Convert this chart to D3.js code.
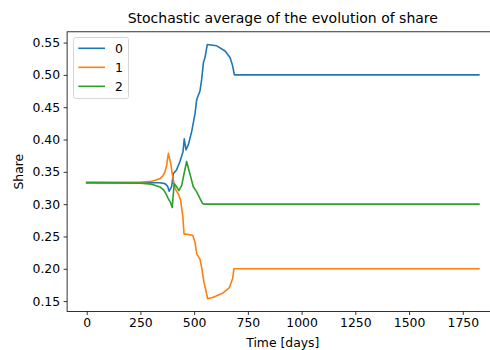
<!DOCTYPE html>
<html>
<head>
<meta charset="utf-8">
<script src="https://cdn.jsdelivr.net/npm/d3@7"></script>
<style>
  html, body { margin: 0; padding: 0; background: #fff; }
  svg { display: block; font-family: "DejaVu Sans", sans-serif; }
</style>
</head>
<body>
<svg id="chart" width="490" height="350"></svg>
<script>
// Series labels and colours
const seriesNames = ["0", "1", "2"];
const seriesColors = ["#1f77b4", "#ff7f0e", "#2ca02c"];

// Share of each group over time (days, share)
const days0  = [0, 250, 340, 364, 376, 384, 395, 403, 418, 434, 448, 454, 462, 473, 489, 504, 512, 527, 535, 543, 550, 561, 605, 644, 667, 679, 687, 1825];
const share0 = [0.3333, 0.3333, 0.3332, 0.3318, 0.328, 0.320, 0.327, 0.347, 0.353, 0.366, 0.381, 0.401, 0.384, 0.392, 0.413, 0.440, 0.462, 0.475, 0.493, 0.519, 0.526, 0.547, 0.545, 0.537, 0.527, 0.514, 0.500, 0.500];

const days1  = [0, 200, 250, 300, 320, 341, 355, 364, 372, 380, 391, 398, 411, 426, 437, 447, 453, 493, 504, 512, 527, 535, 546, 555, 563, 589, 636, 664, 679, 685, 1825];
const share1 = [0.3333, 0.3335, 0.334, 0.3355, 0.337, 0.3396, 0.344, 0.350, 0.360, 0.3786, 0.363, 0.347, 0.324, 0.316, 0.306, 0.282, 0.254, 0.252, 0.241, 0.223, 0.215, 0.202, 0.1786, 0.1656, 0.1536, 0.156, 0.163, 0.171, 0.185, 0.200, 0.200];

const days2  = [0, 250, 300, 320, 341, 355, 364, 372, 380, 388, 398, 407, 418, 429, 442, 453, 465, 484, 496, 512, 524, 538, 545, 1825];
const share2 = [0.3333, 0.3325, 0.331, 0.329, 0.3266, 0.323, 0.319, 0.314, 0.308, 0.304, 0.295, 0.332, 0.327, 0.321, 0.329, 0.347, 0.366, 0.342, 0.327, 0.319, 0.311, 0.3017, 0.300, 0.300];

// Axis ticks
const xTicks = [0, 250, 500, 750, 1000, 1250, 1500, 1750];
const yTicks = [0.15, 0.20, 0.25, 0.30, 0.35, 0.40, 0.45, 0.50, 0.55];

const titleText = "Stochastic average of the evolution of share";
const xLabel = "Time [days]";
const yLabel = "Share";

const series = [
  { name: seriesNames[0], color: seriesColors[0], pts: days0.map((d, i) => [d, share0[i]]) },
  { name: seriesNames[1], color: seriesColors[1], pts: days1.map((d, i) => [d, share1[i]]) },
  { name: seriesNames[2], color: seriesColors[2], pts: days2.map((d, i) => [d, share2[i]]) }
];

const svg = d3.select("#chart");
const plot = { left: 67.1, right: 498.5, top: 31.8, bottom: 311.5 };
const labelSize = "12.4px";

// Matplotlib-style 5% padding on data limits
const allX = [].concat(days0, days1, days2);
const allY = [].concat(share0, share1, share2);
const [xMin, xMax] = d3.extent(allX);
const [yMin, yMax] = d3.extent(allY);
const xPad = (xMax - xMin) * 0.05, yPad = (yMax - yMin) * 0.05;

const x = d3.scaleLinear().domain([xMin - xPad, xMax + xPad]).range([plot.left, plot.right]);
const y = d3.scaleLinear().domain([yMin - yPad, yMax + yPad]).range([plot.bottom, plot.top]);

// Lines
const line = d3.line().x(d => x(d[0])).y(d => y(d[1]));
svg.append("g").selectAll("path").data(series).join("path")
  .attr("d", d => line(d.pts))
  .attr("fill", "none")
  .attr("stroke", d => d.color)
  .attr("stroke-width", 1.6)
  .attr("stroke-linejoin", "round")
  .attr("stroke-linecap", "square");

// Axes
const xAxis = svg.append("g")
  .attr("transform", `translate(0,${plot.bottom})`)
  .call(d3.axisBottom(x).tickValues(xTicks).tickFormat(d3.format("d")).tickSizeOuter(0).tickSize(3.5).tickPadding(3.5));
const yAxis = svg.append("g")
  .attr("transform", `translate(${plot.left},0)`)
  .call(d3.axisLeft(y).tickValues(yTicks).tickFormat(d3.format(".2f")).tickSizeOuter(0).tickSize(3.5).tickPadding(3.5));
[xAxis, yAxis].forEach(a => {
  a.select(".domain").remove();
  a.selectAll(".tick line").attr("stroke", "#000").attr("stroke-width", 0.8);
  a.selectAll(".tick text").attr("fill", "#000").style("font-size", labelSize).style("font-family", "DejaVu Sans");
});

// Frame
svg.append("rect")
  .attr("x", plot.left).attr("y", plot.top)
  .attr("width", plot.right - plot.left).attr("height", plot.bottom - plot.top)
  .attr("fill", "none").attr("stroke", "#000").attr("stroke-width", 0.8);

// Title and labels
svg.append("text")
  .attr("x", (plot.left + plot.right) / 2).attr("y", 23)
  .attr("text-anchor", "middle").style("font-size", "14px").text(titleText);
svg.append("text")
  .attr("x", (plot.left + plot.right) / 2).attr("y", 347)
  .attr("text-anchor", "middle").style("font-size", labelSize).text(xLabel);
svg.append("text")
  .attr("transform", `translate(22.5,${(plot.top + plot.bottom) / 2}) rotate(-90)`)
  .attr("text-anchor", "middle").style("font-size", labelSize).text(yLabel);

// Legend
const lg = svg.append("g");
lg.append("rect")
  .attr("x", 73.5).attr("y", 37.5).attr("width", 55).attr("height", 61).attr("rx", 2)
  .attr("fill", "#fff").attr("fill-opacity", 0.8)
  .attr("stroke", "#cccccc").attr("stroke-width", 0.8);
series.forEach((s, i) => {
  const yy = 48.3 + i * 19;
  lg.append("line")
    .attr("x1", 78.3).attr("x2", 105).attr("y1", yy).attr("y2", yy)
    .attr("stroke", s.color).attr("stroke-width", 1.6);
  lg.append("text")
    .attr("x", 115).attr("y", yy + 4.4)
    .style("font-size", labelSize).text(s.name);
});
</script>
</body>
</html>
